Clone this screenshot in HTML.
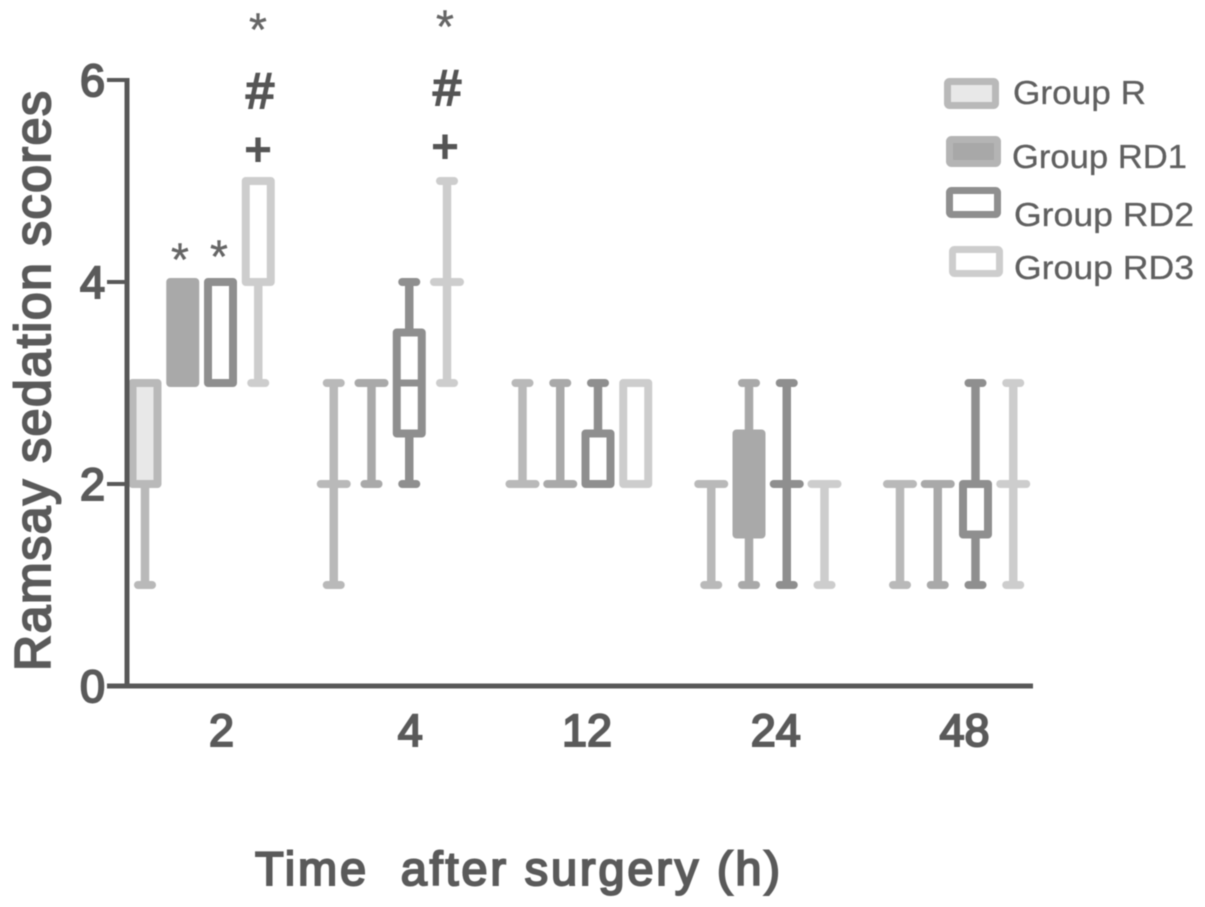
<!DOCTYPE html>
<html lang="en">
<head>
<meta charset="utf-8">
<title>Ramsay sedation scores</title>
<style>
html,body{margin:0;padding:0;background:#fff;width:1205px;height:907px;overflow:hidden}
svg{display:block;filter:blur(.6px)}
text{font-family:"Liberation Sans",sans-serif;fill:#5a5a5a}
.tick{font-size:45px;stroke:#5a5a5a;stroke-width:2px}
.title{stroke:#5a5a5a;stroke-width:2px}
.legend-text{font-size:33px;fill:#606060;stroke:#606060;stroke-width:.3px}
.sig-hash{font-size:50px;text-anchor:middle;fill:#555;stroke:#555;stroke-width:2px}
.sig-plus{font-size:48px;font-weight:bold;text-anchor:middle;fill:#555}
.sig-star{font-size:46px;text-anchor:middle;fill:#666;stroke:#666;stroke-width:.4px}
</style>
</head>
<body>
<svg id="chart" width="1205" height="907" viewBox="0 0 1205 907" xmlns="http://www.w3.org/2000/svg">
  <rect width="1205" height="907" fill="#fff"/>
  <g id="marks"></g>
  <g id="axes"></g>
  <text class="title" transform="translate(50,671) rotate(-90)" font-size="50" textLength="580" lengthAdjust="spacing">Ramsay sedation scores</text>
  <text class="title" x="255" y="885" font-size="47" textLength="525" lengthAdjust="spacing" xml:space="preserve">Time  after surgery (h)</text>

  <g>
    <text class="sig-star" x="180" y="275.5">*</text>
    <text class="sig-star" x="219" y="272.5">*</text>
    <text class="sig-star" x="258" y="45.5">*</text>
    <text class="sig-hash" x="260" y="108">#</text>
    <text class="sig-plus" x="258" y="166">+</text>
    <text class="sig-star" x="445" y="42.5">*</text>
    <text class="sig-hash" x="447" y="105">#</text>
    <text class="sig-plus" x="445" y="163">+</text>
  </g>

  <g>
    <g>
      <rect x="947.5" y="81.5" width="48" height="24" rx="2" fill="#e8e8e8" stroke="#b9b9b9" stroke-width="7"/>
      <text class="legend-text" x="1013" y="104" textLength="133" lengthAdjust="spacingAndGlyphs">Group R</text>
    </g>
    <g>
      <rect x="949.5" y="139.5" width="48" height="24" rx="2" fill="#a8a8a8" stroke="#b4b4b4" stroke-width="7"/>
      <text class="legend-text" x="1012" y="168" textLength="175" lengthAdjust="spacingAndGlyphs">Group RD1</text>
    </g>
    <g>
      <rect x="949.5" y="190.5" width="48" height="24" rx="2" fill="#fff" stroke="#8f8f8f" stroke-width="7"/>
      <text class="legend-text" x="1014" y="226" textLength="180" lengthAdjust="spacingAndGlyphs">Group RD2</text>
    </g>
    <g>
      <rect x="952.5" y="249.5" width="47" height="24" rx="2" fill="#fff" stroke="#cdcdcd" stroke-width="7"/>
      <text class="legend-text" x="1014" y="279" textLength="180" lengthAdjust="spacingAndGlyphs">Group RD3</text>
    </g>
  </g>
</svg>
<script>
// Chart data
var categories = ['2', '4', '12', '24', '48'];
var yTickLabels = [0, 2, 4, 6];

var groupRMin  = [1, 1, 2, 1, 1];
var groupRQ1   = [2, 2, 2, 2, 2];
var groupRMed  = [2, 2, 2, 2, 2];
var groupRQ3   = [3, 2, 2, 2, 2];
var groupRMax  = [3, 3, 3, 2, 2];

var groupRD1Min = [3, 2, 2, 1, 1];
var groupRD1Q1  = [3, 3, 2, 1.5, 2];
var groupRD1Med = [4, 3, 2, 2, 2];
var groupRD1Q3  = [4, 3, 2, 2.5, 2];
var groupRD1Max = [4, 3, 3, 3, 2];

var groupRD2Min = [3, 2, 2, 1, 1];
var groupRD2Q1  = [3, 2.5, 2, 2, 1.5];
var groupRD2Med = [4, 3, 2, 2, 2];
var groupRD2Q3  = [4, 3.5, 2.5, 2, 2];
var groupRD2Max = [4, 4, 3, 3, 3];

var groupRD3Min = [3, 3, 2, 1, 1];
var groupRD3Q1  = [4, 4, 2, 2, 2];
var groupRD3Med = [4, 4, 2, 2, 2];
var groupRD3Q3  = [5, 4, 3, 2, 2];
var groupRD3Max = [5, 5, 3, 2, 3];

var series = [
  {key: 'r',   min: groupRMin,   q1: groupRQ1,   med: groupRMed,   q3: groupRQ3,   max: groupRMax,   color: '#b9b9b9', fill: '#e8e8e8'},
  {key: 'rd1', min: groupRD1Min, q1: groupRD1Q1, med: groupRD1Med, q3: groupRD1Q3, max: groupRD1Max, color: '#a9a9a9', fill: '#a9a9a9'},
  {key: 'rd2', min: groupRD2Min, q1: groupRD2Q1, med: groupRD2Med, q3: groupRD2Q3, max: groupRD2Max, color: '#8f8f8f', fill: '#ffffff'},
  {key: 'rd3', min: groupRD3Min, q1: groupRD3Q1, med: groupRD3Med, q3: groupRD3Q3, max: groupRD3Max, color: '#cdcdcd', fill: '#ffffff'}
];

// Axis functions
function yScale(v) { return 686 - v * 101; }
function xScale(catIndex, groupIndex) { return 145 + 188.75 * catIndex + 37.75 * groupIndex; }

var NS = 'http://www.w3.org/2000/svg';
var marks = document.getElementById('marks');
var axes = document.getElementById('axes');

function line(parent, x1, y1, x2, y2, color, width, cap) {
  var el = document.createElementNS(NS, 'line');
  el.setAttribute('x1', x1);
  el.setAttribute('y1', y1);
  el.setAttribute('x2', x2);
  el.setAttribute('y2', y2);
  el.setAttribute('stroke', color);
  el.setAttribute('stroke-width', width);
  el.setAttribute('stroke-linecap', cap || 'round');
  parent.appendChild(el);
  return el;
}

var HALF_BOX = 12.5;
var HALF_CAP = 7;
var HALF_WIDE = 13;

series.forEach(function (s, g) {
  categories.forEach(function (cat, c) {
    var x = xScale(c, g);
    var box = document.createElementNS(NS, 'g');
    
    
    marks.appendChild(box);

    var whisker = line(box, x, yScale(s.min[c]), x, yScale(s.max[c]), s.color, 8.5, 'butt');
    
    

    var capLow = line(box, x - HALF_CAP, yScale(s.min[c]), x + HALF_CAP, yScale(s.min[c]), s.color, 8);
    
    

    var capHigh = line(box, x - HALF_CAP, yScale(s.max[c]), x + HALF_CAP, yScale(s.max[c]), s.color, 8);
    
    

    if (s.q1[c] === s.q3[c]) {
      var flat = line(box, x - HALF_WIDE, yScale(s.q1[c]), x + HALF_WIDE, yScale(s.q1[c]), s.color, 8);
      
      
    } else {
      var r = document.createElementNS(NS, 'rect');
      
      
      r.setAttribute('x', x - HALF_BOX);
      r.setAttribute('y', yScale(s.q3[c]));
      r.setAttribute('width', HALF_BOX * 2);
      r.setAttribute('height', yScale(s.q1[c]) - yScale(s.q3[c]));
      r.setAttribute('fill', s.fill);
      r.setAttribute('stroke', s.color);
      r.setAttribute('stroke-width', 8);
      r.setAttribute('stroke-linejoin', 'round');
      box.appendChild(r);
      if (s.med[c] > s.q1[c] && s.med[c] < s.q3[c]) {
        var m = line(box, x - HALF_BOX, yScale(s.med[c]), x + HALF_BOX, yScale(s.med[c]), s.color, 7, 'butt');
        
        
      }
    }
  });
});

// Axes
var yAxisLine = line(axes, 127, yScale(6) - 2, 127, yScale(0) + 2, '#585858', 5, 'butt');



var xAxisLine = line(axes, 107, yScale(0), 1033, yScale(0), '#585858', 5, 'butt');



yTickLabels.forEach(function (v) {
  var tick = line(axes, 107, yScale(v), 127, yScale(v), '#585858', 4, 'butt');
  
  
  var t = document.createElementNS(NS, 'text');
  
  
  t.setAttribute('class', 'tick');
  t.setAttribute('x', 80);
  t.setAttribute('y', yScale(v) + 16);
  t.textContent = v;
  axes.appendChild(t);
});

categories.forEach(function (cat, c) {
  var t = document.createElementNS(NS, 'text');
  
  
  t.setAttribute('class', 'tick');
  t.setAttribute('text-anchor', 'middle');
  t.setAttribute('x', xScale(c, 2) + (cat.length > 1 ? -12 : 0) + 1);
  t.setAttribute('y', 746);
  t.textContent = cat;
  axes.appendChild(t);
});
</script>
</body>
</html>
